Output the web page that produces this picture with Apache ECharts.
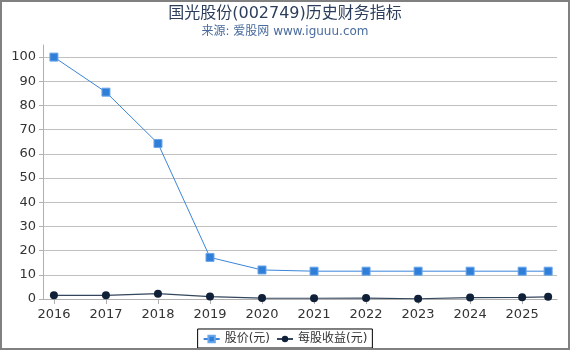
<!DOCTYPE html>
<html>
<head>
<meta charset="utf-8">
<script src="https://cdn.jsdelivr.net/npm/echarts@6/dist/echarts.min.js"></script>
<style>
html,body{margin:0;padding:0;background:#fff;}
#wrap{position:relative;width:570px;height:350px;}
#chart{position:absolute;left:0;top:0;width:570px;height:350px;}
#frame{position:absolute;left:0;top:0;width:570px;height:350px;box-sizing:border-box;border:2px solid #808080;pointer-events:none;}
</style>
</head>
<body>
<div id="wrap"><div id="chart"></div><div id="frame"></div></div>
<script>
var titleText = '国光股份(002749)历史财务指标';
var subText = '来源: 爱股网 www.iguuu.com';
var xPositions = [2016, 2017, 2018, 2019, 2020, 2021, 2022, 2023, 2024, 2025, 2025.5];
var xTickLabels = [2016, 2017, 2018, 2019, 2020, 2021, 2022, 2023, 2024, 2025];
var priceName = '股价(元)';
var priceValues = [100.0, 85.5, 64.3, 17.2, 12.0, 11.5, 11.5, 11.5, 11.5, 11.5, 11.5];
var epsName = '每股收益(元)';
var epsValues = [1.5, 1.5, 2.2, 1.0, 0.4, 0.3, 0.4, 0.1, 0.6, 0.7, 0.9];

var FONT = 'DejaVu Sans, Noto Sans CJK SC, sans-serif';
function pairs(xs, ys){ return xs.map(function(x,i){ return [x, ys[i]]; }); }

var splitColors = [];
for (var i = 0; i < 11; i++) splitColors.push('#c0c0c0');
splitColors.push('rgba(0,0,0,0)');

var chart = echarts.init(document.getElementById('chart'), null, {renderer:'canvas'});
chart.setOption({
  animation: false,
  backgroundColor: '#fff',
  title: {
    text: titleText,
    subtext: subText,
    left: 'center',
    top: 1,
    itemGap: 4,
    textStyle: {fontFamily: FONT, fontSize: 16, fontWeight: 'normal', color: '#2c3e5c'},
    subtextStyle: {fontFamily: FONT, fontSize: 12, color: '#4a6b9d'}
  },
  legend: {
    bottom: 2,
    left: 'center',
    itemWidth: 16,
    itemHeight: 8,
    itemGap: 6,
    padding: [4, 5, 3, 5],
    borderColor: '#000',
    borderWidth: 1,
    borderRadius: 0,
    textStyle: {fontFamily: FONT, fontSize: 12, color: '#333'},
    data: [priceName, epsName]
  },
  grid: {left: 43, right: 13, top: 45, bottom: 51, containLabel: false},
  xAxis: {
    type: 'value',
    min: 2015.79,
    max: 2025.67,
    axisLine: {show: true, lineStyle: {color: '#b0b0b0', width: 1}},
    axisTick: {show: true, length: 5, lineStyle: {color: '#b0b0b0'}, customValues: xTickLabels},
    axisLabel: {show: true, customValues: xTickLabels, color: '#333', fontFamily: FONT, fontSize: 13, margin: 9,
      formatter: function(v){ return String(Math.round(v)); }},
    splitLine: {show: false}
  },
  yAxis: {
    type: 'value',
    min: 0,
    max: 105,
    interval: 10,
    axisLine: {show: true, lineStyle: {color: '#b0b0b0', width: 1}},
    axisTick: {show: true, length: 4, lineStyle: {color: '#b0b0b0'}},
    axisLabel: {color: '#333', fontFamily: FONT, fontSize: 13, margin: 7, showMaxLabel: false,
      formatter: function(v){ return v % 10 === 0 ? String(v) : ''; }},
    splitLine: {show: true, lineStyle: {color: splitColors, width: 1}}
  },
  series: [
    {
      name: priceName,
      type: 'line',
      data: pairs(xPositions, priceValues),
      symbol: 'rect',
      symbolSize: 8,
      itemStyle: {color: '#2f7fd8', borderColor: '#6aa6ea', borderWidth: 1},
      lineStyle: {color: '#3a86dc', width: 1}
    },
    {
      name: epsName,
      type: 'line',
      data: pairs(xPositions, epsValues),
      symbol: 'circle',
      symbolSize: 8,
      itemStyle: {color: '#0f2038'},
      lineStyle: {color: '#33465c', width: 1.2}
    }
  ]
});
</script>
</body>
</html>
